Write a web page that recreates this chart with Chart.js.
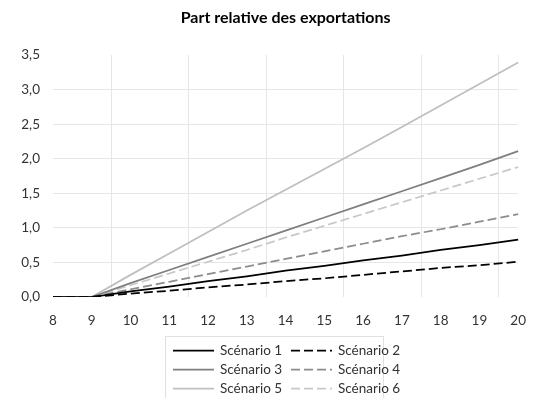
<!DOCTYPE html>
<html>
<head>
<meta charset="utf-8">
<script src="https://cdn.jsdelivr.net/npm/chart.js@4.4.1/dist/chart.umd.min.js"></script>
<style>
  html, body { margin: 0; padding: 0; background: #fff; }
  #wrap { position: relative; width: 534px; height: 398px; }
  #legend {
    position: absolute; left: 165px; top: 336px; width: 219px; height: 64px;
    border: 1px solid #e0e0e0; box-sizing: border-box;
    font-family: Lato, sans-serif; font-size: 13.5px; color: #333;
  }
  .item { position: absolute; height: 18px; line-height: 18px; white-space: nowrap; }
  .item svg { position: absolute; left: 0; top: 0; }
  .item span { position: absolute; left: 47px; top: 0; }
</style>
</head>
<body>
<div id="wrap">
  <canvas id="myChart" width="534" height="398"></canvas>
  <div id="legend"></div>
</div>
<script>
const titleText = 'Part relative des exportations';
const years = ['8', '9', '10', '11', '12', '13', '14', '15', '16', '17', '18', '19', '20'];
const yTicks = [0, 0.5, 1, 1.5, 2, 2.5, 3, 3.5];

// valeurs
const scenario1 = [0, 0, 0.08, 0.15, 0.23, 0.30, 0.38, 0.45, 0.53, 0.60, 0.68, 0.75, 0.83];
const scenario2 = [0, 0, 0.05, 0.09, 0.14, 0.18, 0.23, 0.27, 0.32, 0.37, 0.42, 0.46, 0.51];
const scenario3 = [0, 0, 0.20, 0.39, 0.58, 0.77, 0.96, 1.15, 1.34, 1.53, 1.72, 1.91, 2.11];
const scenario4 = [0, 0, 0.11, 0.22, 0.33, 0.44, 0.55, 0.66, 0.77, 0.88, 0.98, 1.09, 1.20];
const scenario5 = [0, 0, 0.32, 0.63, 0.94, 1.25, 1.55, 1.85, 2.15, 2.46, 2.77, 3.08, 3.39];
const scenario6 = [0, 0, 0.17, 0.34, 0.51, 0.68, 0.86, 1.03, 1.20, 1.37, 1.54, 1.71, 1.88];

const series = [
  { label: 'Scénario 1', data: scenario1, color: '#000000', dash: [] },
  { label: 'Scénario 2', data: scenario2, color: '#000000', dash: [9, 4] },
  { label: 'Scénario 3', data: scenario3, color: '#7f7f7f', dash: [] },
  { label: 'Scénario 4', data: scenario4, color: '#8c8c8c', dash: [9, 4] },
  { label: 'Scénario 5', data: scenario5, color: '#bfbfbf', dash: [] },
  { label: 'Scénario 6', data: scenario6, color: '#c8c8c8', dash: [9, 4] }
];

// titre centré sur la zone de tracé
const titlePlugin = {
  id: 'plotTitle',
  afterDraw(chart) {
    const c = chart.ctx;
    const a = chart.chartArea;
    c.save();
    c.font = 'bold 16px Lato, sans-serif';
    c.fillStyle = '#000';
    c.textAlign = 'center';
    c.textBaseline = 'middle';
    c.fillText(titleText, (a.left + a.right) / 2, 18);
    c.restore();
  }
};

const tickFont = { family: 'Lato, sans-serif', size: 13.5 };

const chart = new Chart(document.getElementById('myChart').getContext('2d'), {
  type: 'line',
  data: {
    labels: years,
    datasets: series.map(s => ({
      label: s.label,
      data: s.data,
      borderColor: s.color,
      backgroundColor: s.color,
      borderDash: s.dash,
      borderWidth: 1.75,
      pointRadius: 0,
      tension: 0,
      fill: false
    }))
  },
  options: {
    responsive: false,
    animation: false,
    layout: { padding: { top: 55, right: 15, left: 0, bottom: 0 } },
    plugins: {
      legend: { display: false },
      title: { display: false },
      tooltip: { enabled: false }
    },
    scales: {
      x: {
        type: 'category',
        offset: false,
        grid: { display: false },
        border: { display: false },
        ticks: { color: '#333', font: tickFont, padding: 8, maxRotation: 0, autoSkip: false },
        afterFit(axis) { axis.height = 101; }
      },
      // axe caché pour les lignes verticales entre les catégories
      xg: {
        type: 'linear',
        position: 'bottom',
        min: 8,
        max: 20,
        afterBuildTicks(axis) {
          axis.ticks = [9.5, 11.5, 13.5, 15.5, 17.5, 19.5].map(v => ({ value: v }));
        },
        grid: { color: '#e6e6e6', lineWidth: 1, drawTicks: false },
        border: { display: false },
        ticks: { display: false },
        afterFit(axis) { axis.height = 0; }
      },
      y: {
        min: 0,
        max: 3.5,
        afterBuildTicks(axis) {
          axis.ticks = yTicks.map(v => ({ value: v }));
        },
        grid: {
          drawTicks: false,
          color: ctx => (ctx.tick && (ctx.tick.value === 0 || ctx.tick.value === 3.5)) ? 'rgba(0,0,0,0)' : '#e6e6e6'
        },
        border: { display: false },
        ticks: {
          color: '#333',
          font: tickFont,
          padding: 13,
          callback: v => v.toFixed(1).replace('.', ',')
        },
        afterFit(axis) { axis.width = 53; }
      }
    }
  },
  plugins: [titlePlugin]
});

// légende sur deux colonnes
const legend = document.getElementById('legend');
series.forEach((s, i) => {
  const col = i % 2, row = Math.floor(i / 2);
  const item = document.createElement('div');
  item.className = 'item';
  item.style.left = (7 + col * 118) + 'px';
  item.style.top = (4 + row * 19) + 'px';
  const dash = s.dash.length ? ` stroke-dasharray="${s.dash.join(' ')}"` : '';
  item.innerHTML = `<svg width="42" height="18"><line x1="0" y1="9.5" x2="41" y2="9.5" stroke="${s.color}" stroke-width="1.75"${dash}/></svg><span>${s.label}</span>`;
  legend.appendChild(item);
});
</script>
</body>
</html>
